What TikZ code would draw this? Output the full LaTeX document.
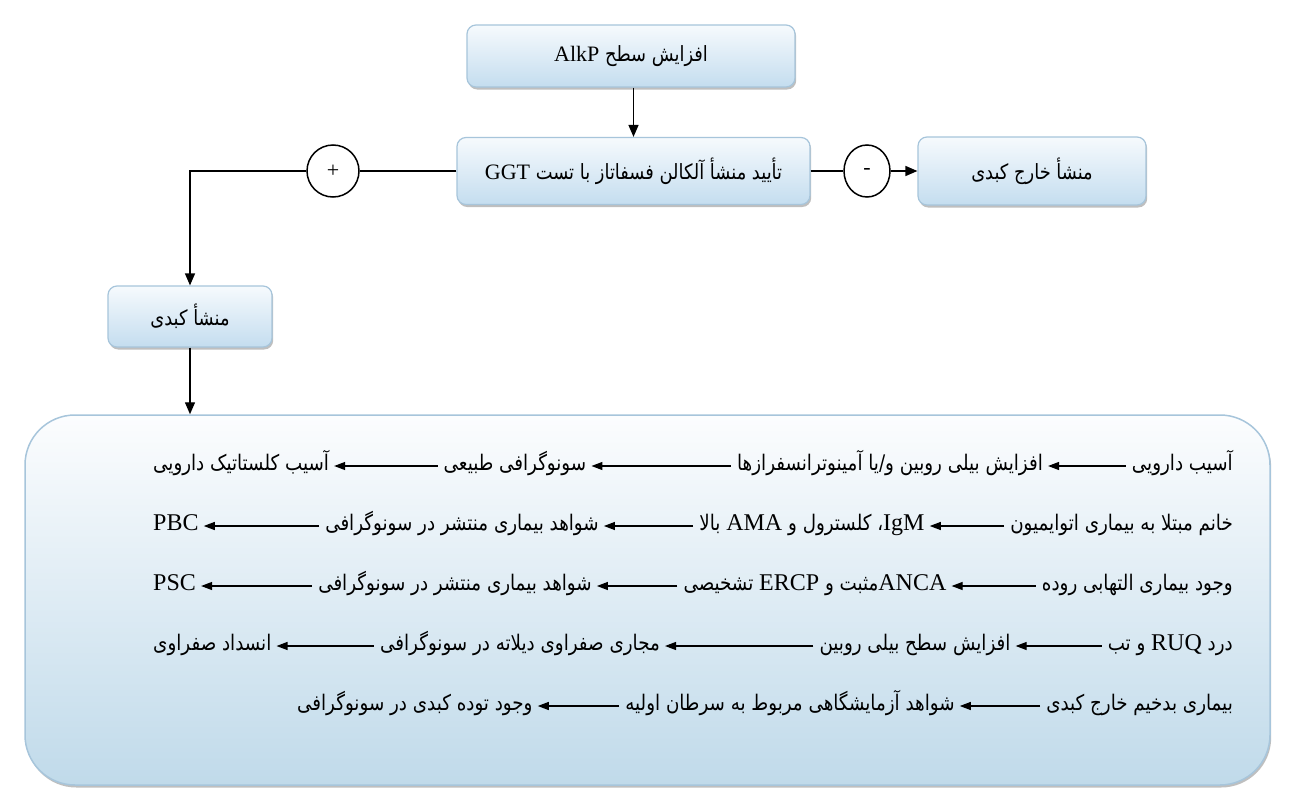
\documentclass[tikz,border=0pt]{standalone}
\usepackage{fontspec}
\setmainfont{Liberation Serif}
\newfontfamily\fa[Script=Arabic,FakeStretch=0.85]{DejaVu Sans}
\newfontfamily\la{Liberation Serif}
\TeXXeTstate=1
\usetikzlibrary{arrows.meta,shadows,shapes.geometric}
\definecolor{boxtop}{HTML}{F6FAFD}
\definecolor{boxbot}{HTML}{C4DDEF}
\definecolor{boxline}{HTML}{A7C5DB}
\definecolor{bigtop}{HTML}{FCFDFE}
\definecolor{bigmid}{HTML}{E3EDF5}
\definecolor{bigbot}{HTML}{C0DAEA}
\newcommand\FA[1]{{\fa\beginR #1\endR}}
\newcommand\LT[1]{{\la\fontsize{22}{25}\selectfont\beginL #1\endL}}
\newcommand\LR[1]{{\la\fontsize{24}{28}\selectfont\beginL #1\endL}}
\begin{document}
\begin{tikzpicture}[x=1pt,y=-1pt,
  flowbox/.style={draw=boxline, line width=1.2pt, rounded corners=9pt,
    top color=boxtop, bottom color=boxbot, inner sep=0pt,
    drop shadow={shadow xshift=1.2pt,shadow yshift=-2.5pt,opacity=0.45,fill=black!55},
    font=\fontsize{21}{24}\selectfont},
  bigbox/.style={draw=boxline, line width=1.5pt, rounded corners=50pt,
    top color=bigtop, middle color=bigmid, bottom color=bigbot, inner sep=0pt,
    drop shadow={shadow xshift=1.2pt,shadow yshift=-2.5pt,opacity=0.45,fill=black!55}},
  sign/.style={draw, line width=1.5pt, fill=white, ellipse, inner sep=0pt,
    font=\la\fontsize{22}{24}\selectfont},
  rowtext/.style={inner sep=0pt, text height=15pt, text depth=7pt,
    font=\fontsize{21.5}{24}\selectfont},
  mainarr/.style={line width=1.4pt, -{Triangle[length=12pt,width=10pt]}},
  plainline/.style={line width=1.4pt},
  rowarr/.style={line width=1.2pt, -{Triangle[length=11pt,width=8pt]}, shorten <=6pt, shorten >=5pt}
]
\useasboundingbox (0,0) rectangle (1291,803);
\fill[white] (0,0) rectangle (1291,803);

% top boxes
\node[flowbox, minimum width=328pt, minimum height=62pt] (alk) at (631,56) {\FA{افزایش سطح \LT{AlkP}}};
\node[flowbox, minimum width=353pt, minimum height=67pt] (ggt) at (633.5,171) {\FA{تأیید منشأ آلکالن فسفاتاز با تست \LT{GGT}}};
\node[sign, minimum width=52pt, minimum height=52pt] (plus) at (333,171) {+};
\node[sign, minimum width=46pt, minimum height=52pt] (minus) at (867,171) {-};
\node[flowbox, minimum width=228pt, minimum height=68pt] (extra) at (1032,171) {\FA{منشأ خارج کبدی}};
\node[flowbox, minimum width=164pt, minimum height=61pt] (liver) at (190,316.5) {\FA{منشأ کبدی}};
\node[bigbox, minimum width=1245pt, minimum height=370pt] (big) at (647.5,600) {};

% connectors
\draw[mainarr] (alk.south -| ggt.north) -- (ggt.north);
\draw[plainline] (ggt.west) -- (plus.east);
\draw[mainarr] (plus.west) -| (liver.north);
\draw[plainline] (ggt.east) -- (minus.west);
\draw[mainarr] (minus.east) -- (extra.west);
\draw[mainarr] (liver.south) -- (liver.south |- big.north);

% row 1
\node[rowtext, anchor=east] (r1a) at (1233,466) {\FA{آسیب دارویی}};
\node[rowtext] (r1b) at (890,466) {\FA{افزایش بیلی روبین و/یا آمینوترانسفرازها}};
\node[rowtext] (r1c) at (515,466) {\FA{سونوگرافی طبیعی}};
\node[rowtext, anchor=west] (r1d) at (153,466) {\FA{آسیب کلستاتیک دارویی}};
\draw[rowarr] (r1a.west) -- (r1b.east);
\draw[rowarr] (r1b.west) -- (r1c.east);
\draw[rowarr] (r1c.west) -- (r1d.east);

% row 2
\node[rowtext, anchor=east] (r2a) at (1233,526) {\FA{خانم مبتلا به بیماری اتوایمیون}};
\node[rowtext] (r2b) at (812,526) {\FA{\LR{IgM}، کلسترول و \LR{AMA} بالا}};
\node[rowtext] (r2c) at (462,526) {\FA{شواهد بیماری منتشر در سونوگرافی}};
\node[rowtext, anchor=west] (r2d) at (153,526) {\LR{PBC}};
\draw[rowarr] (r2a.west) -- (r2b.east);
\draw[rowarr] (r2b.west) -- (r2c.east);
\draw[rowarr] (r2c.west) -- (r2d.east);

% row 3
\node[rowtext, anchor=east] (r3a) at (1233,586) {\FA{وجود بیماری التهابی روده}};
\node[rowtext] (r3b) at (815,586) {\FA{\LR{ANCA}مثبت و \LR{ERCP} تشخیصی}};
\node[rowtext] (r3c) at (455,586) {\FA{شواهد بیماری منتشر در سونوگرافی}};
\node[rowtext, anchor=west] (r3d) at (153,586) {\LR{PSC}};
\draw[rowarr] (r3a.west) -- (r3b.east);
\draw[rowarr] (r3b.west) -- (r3c.east);
\draw[rowarr] (r3c.west) -- (r3d.east);

% row 4
\node[rowtext, anchor=east] (r4a) at (1233,646) {\FA{درد \LR{RUQ} و تب}};
\node[rowtext] (r4b) at (915,646) {\FA{افزایش سطح بیلی روبین}};
\node[rowtext] (r4c) at (520,646) {\FA{مجاری صفراوی دیلاته در سونوگرافی}};
\node[rowtext, anchor=west] (r4d) at (153,646) {\FA{انسداد صفراوی}};
\draw[rowarr] (r4a.west) -- (r4b.east);
\draw[rowarr] (r4b.west) -- (r4c.east);
\draw[rowarr] (r4c.west) -- (r4d.east);

% row 5
\node[rowtext, anchor=east] (r5a) at (1233,706) {\FA{بیماری بدخیم خارج کبدی}};
\node[rowtext] (r5b) at (790,706) {\FA{شواهد آزمایشگاهی مربوط به سرطان اولیه}};
\node[rowtext, anchor=west] (r5c) at (297,706) {\FA{وجود توده کبدی در سونوگرافی}};
\draw[rowarr] (r5a.west) -- (r5b.east);
\draw[rowarr] (r5b.west) -- (r5c.east);
\end{tikzpicture}
\end{document}
